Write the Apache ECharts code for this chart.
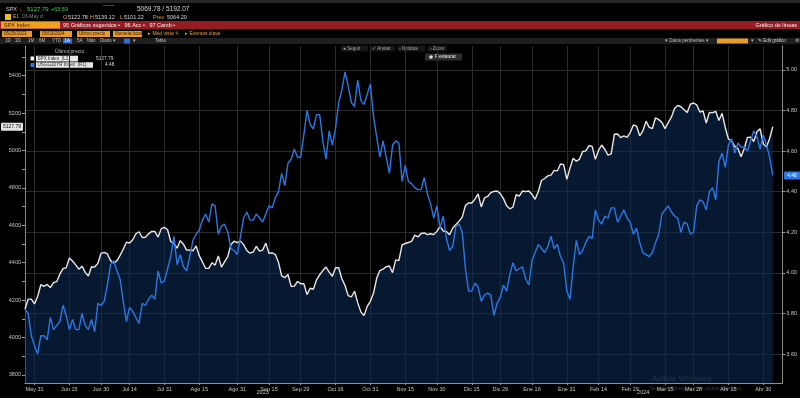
<!DOCTYPE html>
<html>
<head>
<meta charset="utf-8">
<script src="https://cdn.jsdelivr.net/npm/echarts@6/dist/echarts.min.js"></script>
<style>
html, body { margin: 0; padding: 0; background: #000; }
#chart { width: 800px; height: 398px; }
</style>
</head>
<body>
<div id="chart"></div>
<script>
// eje de días hábiles (NYSE): se saltan fines de semana y festivos
var firstDay = '2023-05-25';
var lastDay = '2024-05-08';
var holidays = ['2023-05-29', '2023-06-19', '2023-07-04', '2023-09-04', '2023-11-23',
  '2023-12-25', '2024-01-01', '2024-01-15', '2024-02-19', '2024-03-29'];

// fechas con etiqueta en el eje X
var labelDates = ['2023-05-31', '2023-06-15', '2023-06-30', '2023-07-14', '2023-07-31',
  '2023-08-15', '2023-08-31', '2023-09-15', '2023-09-29', '2023-10-16', '2023-10-31',
  '2023-11-15', '2023-11-30', '2023-12-15', '2023-12-29', '2024-01-16', '2024-01-31',
  '2024-02-14', '2024-02-29', '2024-03-15', '2024-03-28', '2024-04-15', '2024-04-30'];
var monthNames = ['Ene', 'Feb', 'Mar', 'Abr', 'May', 'Jun', 'Jul', 'Ago', 'Sep', 'Oct', 'Nov', 'Dic'];
var years = ['2023', '2024'];

// SPX Index (L1), cierre diario
var spx = [
  4151.28, 4205.45, 4205.52, 4179.83,
  4221.02, 4282.37, 4273.79, 4283.85, 4267.52, 4293.93, 4298.86, 4338.93, 4369.01, 4372.59, 4425.84,
  4409.59, 4388.71, 4365.69, 4381.89, 4348.33, 4328.82, 4378.41, 4376.86, 4396.44, 4450.38,
  4455.59, 4446.82, 4411.59, 4398.95, 4409.53, 4439.26, 4472.16, 4510.04, 4505.42, 4522.79,
  4554.98, 4565.72, 4534.87, 4536.34, 4554.64, 4567.46, 4566.75, 4537.41, 4582.23, 4588.96,
  4576.73, 4513.39, 4501.89, 4478.03, 4518.44, 4499.38, 4467.71, 4468.83, 4464.05, 4489.72, 4437.86, 4404.33,
  4370.36, 4369.71, 4399.77, 4387.55, 4436.01, 4376.31, 4405.71, 4433.31, 4497.63, 4514.87, 4507.66,
  4515.77, 4496.83, 4465.48, 4451.14, 4457.49, 4487.46, 4461.90, 4467.44, 4505.10, 4450.32,
  4453.53, 4443.95, 4402.20, 4330.00, 4320.06, 4337.44, 4273.53, 4274.51, 4299.70, 4288.05,
  4288.39, 4229.45, 4263.75, 4258.19, 4308.50, 4335.66, 4358.24, 4376.95, 4349.61, 4327.78, 4373.63,
  4373.20, 4314.60, 4278.00, 4224.16, 4217.04, 4247.68, 4186.77, 4137.23, 4117.37, 4166.82, 4193.80,
  4237.86, 4317.78, 4358.34, 4365.98, 4378.38, 4382.78, 4347.35, 4415.24, 4411.55, 4495.70, 4502.88,
  4508.24, 4514.02, 4547.38, 4538.19, 4556.62, 4559.34, 4550.43, 4554.89, 4550.58, 4567.80,
  4594.63, 4569.78, 4567.18, 4549.34, 4585.59, 4604.37, 4622.44, 4643.70, 4707.09, 4719.55,
  4719.19, 4740.56, 4768.37, 4698.35, 4746.75, 4754.63, 4774.75, 4781.58, 4783.35, 4769.83,
  4742.83, 4704.81, 4688.68, 4697.24, 4763.54, 4756.50, 4783.45, 4780.24, 4783.83, 4765.98, 4739.21,
  4780.94, 4839.81, 4850.43, 4864.60, 4868.55, 4894.16, 4890.97, 4927.93, 4924.97, 4845.65,
  4906.19, 4958.61, 4942.81, 4954.23, 4995.06, 4997.91, 5026.61, 5021.84, 4953.17, 5000.62,
  5029.73, 5005.57, 4975.51, 4981.80, 5087.03, 5088.80, 5069.53, 5078.18, 5069.76, 5096.27,
  5137.08, 5130.95, 5078.65, 5104.76, 5157.36, 5123.69, 5117.94, 5175.27, 5165.31, 5150.48,
  5117.09, 5149.42, 5178.51, 5224.62, 5241.53, 5234.18, 5218.19, 5203.58, 5248.49, 5254.35,
  5243.77, 5205.81, 5211.49, 5147.21, 5204.34, 5202.39, 5209.91, 5160.64, 5199.06, 5123.41, 5061.82,
  5051.41, 5022.21, 5011.12, 4967.23, 5010.60, 5070.55, 5071.63, 5048.42, 5099.96, 5116.17, 5035.69,
  5018.39, 5064.20, 5127.79
];

// USGG10YR Index (R1), rendimiento diario
var ust10y = [
  3.82, 3.80, 3.69, 3.64,
  3.60, 3.69, 3.69, 3.67, 3.78, 3.72, 3.74, 3.76, 3.84, 3.79, 3.72,
  3.77, 3.72, 3.72, 3.80, 3.74, 3.72, 3.77, 3.71, 3.85, 3.84,
  3.86, 3.94, 4.04, 4.06, 4.01, 3.97, 3.86, 3.76, 3.83, 3.81,
  3.78, 3.75, 3.85, 3.84, 3.87, 3.89, 3.87, 4.01, 3.95, 3.96,
  4.02, 4.08, 4.18, 4.04, 4.09, 4.03, 4.01, 4.08, 4.16, 4.19, 4.21, 4.26,
  4.29, 4.25, 4.34, 4.33, 4.19, 4.23, 4.24, 4.20, 4.12, 4.11, 4.09,
  4.18, 4.27, 4.30, 4.26, 4.26, 4.29, 4.27, 4.25, 4.29, 4.33,
  4.32, 4.37, 4.40, 4.49, 4.43, 4.54, 4.56, 4.61, 4.57, 4.57,
  4.68, 4.80, 4.73, 4.71, 4.78, 4.78, 4.65, 4.56, 4.70, 4.63, 4.71,
  4.84, 4.90, 4.99, 4.92, 4.84, 4.82, 4.95, 4.85, 4.83, 4.88, 4.93,
  4.77, 4.67, 4.57, 4.65, 4.57, 4.49, 4.63, 4.65, 4.64, 4.45, 4.53,
  4.45, 4.44, 4.42, 4.41, 4.41, 4.47, 4.39, 4.34, 4.27, 4.33,
  4.22, 4.28, 4.17, 4.11, 4.13, 4.23, 4.24, 4.20, 4.02, 3.91,
  3.91, 3.95, 3.93, 3.86, 3.89, 3.90, 3.89, 3.79, 3.85, 3.88,
  3.94, 3.91, 3.99, 4.05, 4.01, 4.02, 4.03, 3.97, 3.94, 4.06, 4.10,
  4.14, 4.12, 4.10, 4.13, 4.18, 4.12, 4.14, 4.08, 4.05, 3.91,
  3.87, 4.03, 4.16, 4.09, 4.11, 4.15, 4.18, 4.17, 4.31, 4.26,
  4.24, 4.28, 4.27, 4.32, 4.32, 4.25, 4.28, 4.31, 4.27, 4.25,
  4.19, 4.22, 4.15, 4.10, 4.09, 4.08, 4.10, 4.15, 4.19, 4.29,
  4.31, 4.33, 4.30, 4.28, 4.27, 4.20, 4.25, 4.24, 4.19, 4.20,
  4.33, 4.36, 4.35, 4.31, 4.40, 4.42, 4.36, 4.55, 4.59, 4.52, 4.63,
  4.66, 4.59, 4.64, 4.62, 4.62, 4.60, 4.65, 4.70, 4.67, 4.61, 4.68,
  4.63, 4.57, 4.48
];

// marcas de los ejes Y
var spxLabels = [3800, 4000, 4200, 4400, 4600, 4800, 5000, 5200, 5400];
var spxTicks = [3800, 3900, 4000, 4100, 4200, 4300, 4400, 4500, 4600, 4700, 4800, 4900, 5000, 5100, 5200, 5300, 5400, 5500];
var ustLabels = [3.6, 3.8, 4.0, 4.2, 4.4, 4.6, 4.8, 5.0];

var days = [];
for (var t = Date.parse(firstDay + 'T00:00:00Z'); t <= Date.parse(lastDay + 'T00:00:00Z'); t += 86400000) {
  var d = new Date(t).toISOString().slice(0, 10);
  var wd = new Date(t).getUTCDay();
  if (wd === 0 || wd === 6 || holidays.indexOf(d) >= 0) continue;
  days.push(d);
}

function isLabelDay(i, v) { return labelDates.indexOf(v) >= 0; }
function shortLabel(v) {
  var p = v.split('-');
  return monthNames[+p[1] - 1] + ' ' + (+p[2]);
}

var FONT = '"Liberation Sans", Arial, sans-serif';
function box(x, y, w, h, fill, r) {
  return { type: 'rect', silent: true, shape: { x: x, y: y, width: w, height: h, r: r || 0 }, style: { fill: fill } };
}
function txt(x, y, s, color, size, align, weight) {
  return {
    type: 'text', silent: true, x: x, y: y,
    style: {
      text: s, fill: color, font: (weight || 'normal') + ' ' + (size || 7) + 'px ' + FONT,
      align: align || 'left', verticalAlign: 'middle',
      textAlign: align || 'left', textVerticalAlign: 'middle'
    }
  };
}

// cabecera tipo terminal
var decor = [
  box(0, 0, 800, 3, '#262626'),
  txt(6, 9, 'SPX', '#d0d0d0', 5.5),
  txt(19, 9, '↓', '#e53b3b', 6, 'left', 'bold'),
  txt(27, 9, '5127.79', '#3fd24a', 6),
  txt(51, 9, '+63.59', '#3fd24a', 5.5),
  txt(103, 6, '~~~~', '#3fd24a', 5),
  txt(137, 9, '5069.78 / 5192.07', '#d8d8d8', 6.5),
  box(5, 14, 6, 6, '#e8c020'),
  txt(13, 17, 'E1', '#e8a030', 5),
  txt(22, 17, '03-May d', '#8a8a8a', 5),
  txt(63, 17, 'O', '#e8a030', 5.5),
  txt(68, 17, '5122.78', '#d8d8d8', 5.5),
  txt(90, 17, 'H', '#e8a030', 5.5),
  txt(95, 17, '5139.12', '#d8d8d8', 5.5),
  txt(120, 17, 'L', '#e8a030', 5.5),
  txt(124, 17, '5101.22', '#d8d8d8', 5.5),
  txt(153, 17, 'Prev', '#e8a030', 5.5),
  txt(167, 17, '5064.20', '#d8d8d8', 5.5),
  box(0, 21, 800, 8, '#971b24'),
  box(1, 21.5, 59, 7, '#f0a020'),
  txt(4, 25, 'SPX Index', '#3a2000', 5.5),
  txt(63, 25, '95 Gráficos sugeridos •   96 Acc •   97 Camb •', '#f2f2f2', 5.5),
  txt(797, 25, 'Gráfico de líneas', '#f2f2f2', 5.5, 'right'),
  box(2, 31, 30, 6, '#e89a2a'),
  txt(4, 34, '05/25/2023', '#3a2000', 4.5),
  box(40, 31, 32, 6, '#e89a2a'),
  txt(42, 34, '05/03/2024', '#3a2000', 4.5),
  box(77, 31, 33, 6, '#e89a2a'),
  txt(79, 34, 'Último precio', '#3a2000', 4.5),
  box(113, 31, 29, 6, '#e89a2a'),
  txt(115, 34, 'Moneda local', '#3a2000', 4.5),
  txt(148, 34, '▸ Med vista ✎', '#e8a030', 5),
  txt(185, 34, '▸ Eventos clave', '#e8a030', 5),
  box(0, 38, 800, 6, '#1f1f1f'),
  txt(5, 41, '1D', '#bdbdbd', 4.5),
  txt(15, 41, '3D', '#bdbdbd', 4.5),
  txt(28, 41, '1M', '#bdbdbd', 4.5),
  txt(39, 41, '6M', '#bdbdbd', 4.5),
  txt(52, 41, 'YTD', '#bdbdbd', 4.5),
  box(63, 38.5, 9, 5, '#2f6fd0'),
  txt(64.5, 41, '1A', '#ffffff', 4.5),
  txt(77, 41, '5A', '#bdbdbd', 4.5),
  txt(87, 41, 'Máx', '#bdbdbd', 4.5),
  txt(100, 41, 'Diario ▾', '#bdbdbd', 4.5),
  box(124, 38.5, 6, 5, '#2f6fd0'),
  txt(133, 41, '▾', '#bdbdbd', 4.5),
  txt(155, 41, 'Tabla', '#bdbdbd', 4.5),
  txt(665, 41, '▾ Datos pertinentes ▾', '#bdbdbd', 4.5),
  box(717, 38.5, 31, 5, '#e89a2a'),
  txt(751, 41, '▾', '#bdbdbd', 4.5),
  txt(758, 41, '✎ Edit gráfico', '#d0d0d0', 4.5),
  txt(795, 41, '⚙', '#bdbdbd', 4.5),
  box(341, 45.5, 27, 6, '#161616'),
  txt(343, 48.5, '◂ Seguir', '#a8a8a8', 4.5),
  box(370, 45.5, 25, 6, '#161616'),
  txt(372, 48.5, '✓ Anotar', '#a8a8a8', 4.5),
  box(397, 45.5, 28, 6, '#161616'),
  txt(399, 48.5, '▫ Noticias', '#a8a8a8', 4.5),
  box(428, 45.5, 19, 6, '#161616'),
  txt(430, 48.5, '▫ Zoom', '#a8a8a8', 4.5),
  box(425, 53.5, 37, 7, '#2e2e2e', 1),
  { type: 'circle', silent: true, shape: { cx: 431, cy: 57, r: 1.8 }, style: { fill: '#e0e0e0' } },
  txt(435, 57, 'Restaurar', '#e8e8e8', 4.8),
  // leyenda
  txt(55, 52, 'Último precio', '#b8b8b8', 5),
  box(30.5, 56.5, 4, 4, '#f2f2f2'),
  box(36, 55.8, 42, 5.6, '#e6e6e6'),
  txt(37.5, 58.6, 'SPX Index  (L1)', '#202020', 4.6),
  txt(96, 58.6, '5127.79', '#d8d8d8', 4.8),
  box(30.5, 63, 4, 4, '#2a78e4'),
  box(36, 62.2, 57, 5.6, '#e6e6e6'),
  txt(37.5, 65, 'USGG10YR Index  (R1)', '#202020', 4.6),
  txt(105, 65, '4.48', '#d8d8d8', 4.8),
  txt(652, 379, 'Activar Windows', 'rgba(150,160,175,0.45)', 8),
  txt(650, 389, 'Ve a Configuración para activar Windows.', 'rgba(150,160,175,0.35)', 5)
];

var chart = echarts.init(document.getElementById('chart'));
var option = {
  backgroundColor: '#000',
  animation: false,
  textStyle: { fontFamily: FONT },
  grid: { left: 25, right: 17, top: 46, bottom: 15, containLabel: false },
  xAxis: {
    type: 'category',
    data: days,
    boundaryGap: false,
    axisLine: { lineStyle: { color: '#8593a8', width: 1 } },
    axisTick: { interval: isLabelDay, length: 2, lineStyle: { color: '#8593a8' } },
    axisLabel: { interval: isLabelDay, formatter: shortLabel, color: '#c4c4c4', fontSize: 5.5, margin: 3 },
    splitLine: { show: true, interval: isLabelDay, lineStyle: { color: '#2c2c2c', width: 1 } }
  },
  yAxis: [
    {
      type: 'value', position: 'left', min: 3757, max: 5559,
      axisLine: { show: true, lineStyle: { color: '#8a8a8a' } },
      axisTick: { show: true, customValues: spxTicks, length: 3, lineStyle: { color: '#9a9a9a' } },
      axisLabel: {
        customValues: spxLabels, color: '#c4c4c4', fontSize: 5.5, margin: 4,
        formatter: function (v) { return String(v); }
      },
      splitLine: { show: false }
    },
    {
      type: 'value', position: 'right', min: 3.457, max: 5.118,
      axisLine: { show: true, lineStyle: { color: '#8a8a8a' } },
      axisTick: { show: true, customValues: ustLabels, length: 3, lineStyle: { color: '#9a9a9a' } },
      axisLabel: {
        customValues: ustLabels, color: '#c4c4c4', fontSize: 5.5, margin: 4,
        formatter: function (v) { return v.toFixed(2); }
      },
      splitLine: { show: true, lineStyle: { color: '#2c2c2c', width: 1 } }
    }
  ],
  series: [
    {
      name: 'SPX Index (L1)', type: 'line', yAxisIndex: 0, data: spx,
      symbol: 'none', z: 2,
      lineStyle: { color: '#e8e8e8', width: 1.4 },
      areaStyle: { color: 'rgba(12,40,82,0.85)', origin: 'start' }
    },
    {
      name: 'USGG10YR Index (R1)', type: 'line', yAxisIndex: 1, data: ust10y,
      symbol: 'none', z: 3,
      lineStyle: { color: '#2a78e4', width: 1.4 }
    }
  ],
  graphic: decor
};
chart.setOption(option);

// etiquetas del último valor sobre los ejes y años bajo el eje X
var lastSpx = spx[spx.length - 1];
var lastUst = ust10y[ust10y.length - 1];
var ySpx = chart.convertToPixel({ yAxisIndex: 0 }, lastSpx);
var yUst = chart.convertToPixel({ yAxisIndex: 1 }, lastUst);
decor.push(box(1, ySpx - 4, 22, 8, '#e4e4e4', 1));
decor.push(txt(12, ySpx, lastSpx.toFixed(2), '#111', 5, 'center'));
decor.push(box(784, yUst - 4, 16, 8, '#2a78e4', 1));
decor.push(txt(792, yUst, lastUst.toFixed(2), '#ffffff', 5, 'center'));
years.forEach(function (yr) {
  var idx = days.filter(function (d) { return d.indexOf(yr) === 0; });
  var a = chart.convertToPixel({ xAxisIndex: 0 }, idx[0]);
  var b = yr === years[years.length - 1] ? 783 : chart.convertToPixel({ xAxisIndex: 0 }, idx[idx.length - 1]);
  decor.push(txt((a + b) / 2, 392.5, yr, '#c4c4c4', 5.5, 'center'));
});
chart.setOption({ graphic: decor });
</script>
</body>
</html>
